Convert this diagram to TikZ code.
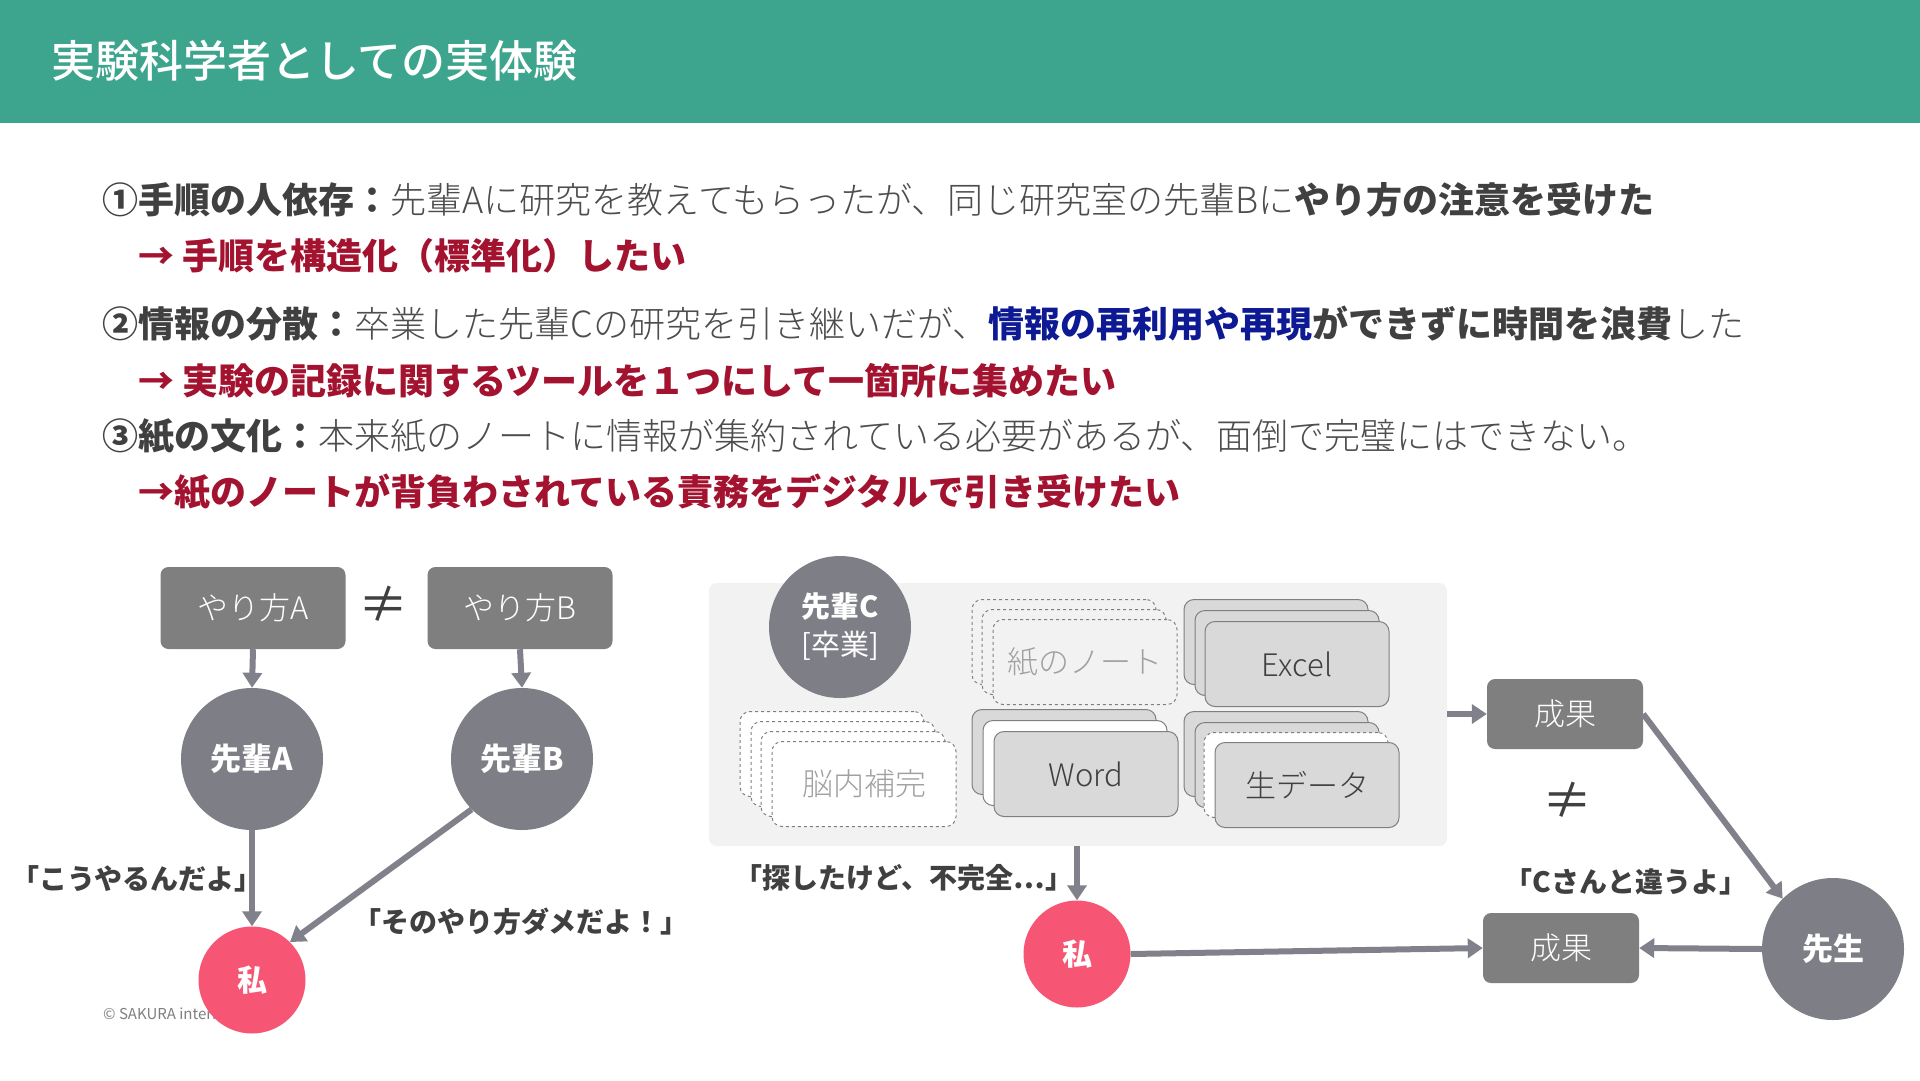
\documentclass[tikz,border=0pt]{standalone}
\usepackage{fontspec}
\usetikzlibrary{arrows.meta}
\setmainfont{Noto Sans CJK JP}
\IfFontExistsTF{Noto Sans CJK JP Light}{\newfontfamily\ltfont{Noto Sans CJK JP Light}}{\newfontfamily\ltfont{Noto Sans CJK JP}}
\IfFontExistsTF{Noto Sans CJK JP Medium}{\newfontfamily\mdfont{Noto Sans CJK JP Medium}}{\newfontfamily\mdfont{Noto Sans CJK JP}[FakeBold=1.5]}
\newcommand\fsz[1]{\fontsize{#1}{#1}\selectfont}
\definecolor{headteal}{HTML}{3DA58E}
\definecolor{darktext}{HTML}{404040}
\definecolor{lighttext}{HTML}{4D4D4D}
\definecolor{redtext}{HTML}{A3122F}
\definecolor{bluetext}{HTML}{0D1A94}
\definecolor{boxgray}{HTML}{7F7F7F}
\definecolor{circgray}{HTML}{7E7F86}
\definecolor{arrowgray}{HTML}{80818A}
\definecolor{mepink}{HTML}{F65674}
\definecolor{panelgray}{HTML}{F2F2F2}
\definecolor{cardgray}{HTML}{D9D9D9}
\definecolor{cardborder}{HTML}{7F7F7F}
\definecolor{faint}{HTML}{A0A0A0}
\tikzset{
  gbox/.style={fill=boxgray, rounded corners=8pt, minimum width=185pt, minimum height=82pt, inner sep=0pt, text=white, font=\ltfont\fsz{31}},
  rbox/.style={fill=boxgray, rounded corners=8pt, minimum width=156pt, minimum height=70pt, inner sep=0pt, text=white, font=\ltfont\fsz{31}},
  pcirc/.style={circle, fill=circgray, minimum size=142pt, inner sep=0pt, text=white, font=\bfseries\fsz{31}},
  mecirc/.style={circle, fill=mepink, minimum size=107pt, inner sep=0pt, text=white, font=\bfseries\fsz{30}},
  arr/.style={draw=arrowgray, line width=6pt, -{Triangle[length=15pt,width=19pt]}},
  quote/.style={text=darktext, font=\bfseries\fsz{28}, inner sep=0pt},
  neq/.style={text=darktext, font=\fsz{50}, inner sep=0pt},
  card/.style={rounded corners=10pt, minimum width=184pt, minimum height=85pt, inner sep=0pt, line width=1pt, draw=cardborder},
  solidcard/.style={card, fill=cardgray},
  dashcard/.style={card, dashed, fill=white},
  pdashcard/.style={card, dashed, fill=panelgray},
  line/.style={anchor=west, inner sep=0pt, font=\fsz{36}},
}
\begin{document}
\begin{tikzpicture}[x=1pt,y=-1pt]
\useasboundingbox (0,0) rectangle (1920,1080);
\fill[white] (0,0) rectangle (1920,1080);
% header
\fill[headteal] (0,0) rectangle (1920,123);
\node[anchor=west, inner sep=0pt, text=white, font=\mdfont\fsz{44}] (title) at (51,61) {実験科学者としての実体験};
% text lines
\node[line] (l1) at (102,200) {\color{darktext}\bfseries ①手順の人依存：};
\node[line, anchor=west] (l1b) at (l1.east) {\color{lighttext}\ltfont 先輩Aに研究を教えてもらったが、同じ研究室の先輩Bに\color{darktext}\normalfont\bfseries やり方の注意を受けた};
\node[line] (l2) at (138,256) {\color{redtext}\bfseries → 手順を構造化（標準化）したい};
\node[line] (l3) at (102,324) {\color{darktext}\bfseries ②情報の分散：};
\node[line] (l3b) at (l3.east) {\color{lighttext}\ltfont 卒業した先輩Cの研究を引き継いだが、\color{bluetext}\normalfont\bfseries 情報の再利用や再現\color{darktext}ができずに時間を浪費\color{lighttext}\mdseries\ltfont した};
\node[line] (l4) at (138,381) {\color{redtext}\bfseries → 実験の記録に関するツールを１つにして一箇所に集めたい};
\node[line] (l5) at (102,436) {\color{darktext}\bfseries ③紙の文化：};
\node[line] (l5b) at (l5.east) {\color{lighttext}\ltfont 本来紙のノートに情報が集約されている必要があるが、面倒で完璧にはできない。};
\node[line] (l6) at (138,492) {\color{redtext}\bfseries →紙のノートが背負わされている責務をデジタルで引き受けたい};
% left diagram
\node[gbox] (waya) at (253,608) {やり方A};
\node[gbox] (wayb) at (520,608) {やり方B};
\node[neq] (neq1) at (383,604) {≠};
\node[pcirc] (sa) at (252,759) {先輩A};
\node[pcirc] (sb) at (522,759) {先輩B};
\node[anchor=west, inner sep=0pt, text=boxgray, font=\fsz{15}] (copy) at (103,1014) {© SAKURA internet};
\node[mecirc] (meL) at (252,980) {私};
\draw[arr] (waya.south) -- (sa.north);
\draw[arr] (wayb.south) -- (sb.north);
\draw[arr] (sa.south) -- (meL.north);
\draw[arr] (sb.225) -- (meL.45);
\node[quote] (q1) at (137,879) {「こうやるんだよ」};
\node[quote] (q2) at (521,922) {「そのやり方ダメだよ！」};
% right diagram
\node[fill=panelgray, rounded corners=8pt, minimum width=738pt, minimum height=263pt, inner sep=0pt] (panel) at (1078,714.5) {};
\node[pcirc, align=center, font=\fontsize{29}{38}\selectfont] (sc) at (840,627) {{\bfseries 先輩C}\\{[卒業]}};
% paper notes
\node[pdashcard] (pn1) at (1064,642) {};
\node[pdashcard] (pn2) at (1074,652) {};
\node[pdashcard, text=faint, font=\ltfont\fsz{31}] (pn3) at (1085,662) {紙のノート};
% excel
\node[solidcard] (ex1) at (1276,642) {};
\node[solidcard] (ex2) at (1287,653) {};
\node[solidcard, text=darktext, font=\ltfont\fsz{31}] (ex3) at (1297,664) {Excel};
% brain
\node[dashcard] (br1) at (832,754) {};
\node[dashcard] (br2) at (843,764) {};
\node[dashcard] (br3) at (853,774) {};
\node[dashcard, text=faint, font=\ltfont\fsz{31}] (br4) at (864,784) {脳内補完};
% word
\node[solidcard] (wd1) at (1064,752) {};
\node[card, fill=white] (wd2) at (1075,763) {};
\node[solidcard, text=darktext, font=\ltfont\fsz{31}] (wd3) at (1086,774) {Word};
% raw data
\node[solidcard] (rd1) at (1276,754) {};
\node[solidcard] (rd2) at (1287,765) {};
\node[dashcard] (rd3) at (1296,775) {};
\node[solidcard, text=darktext, font=\ltfont\fsz{31}] (rd4) at (1307,785) {生データ};
% lower right
\node[mecirc] (meR) at (1077,954) {私};
\node[rbox] (res1) at (1565,714) {成果};
\node[rbox] (res2) at (1561,948) {成果};
\node[neq] (neq2) at (1567,800) {≠};
\node[pcirc] (sensei) at (1833,949) {先生};
\draw[arr] (meR |- panel.south) -- (meR.north);
\draw[arr] (panel.east |- res1) -- (res1.west);
\draw[arr] (res1.east) -- (sensei.135);
\draw[arr] (sensei.west) -- (res2.east);
\draw[arr] (meR.east) -- (res2.west);
\node[quote] (q3) at (904,878) {「探したけど、不完全⋯」};
\node[quote] (q4) at (1626,882) {「Cさんと違うよ」};
\end{tikzpicture}
\end{document}
